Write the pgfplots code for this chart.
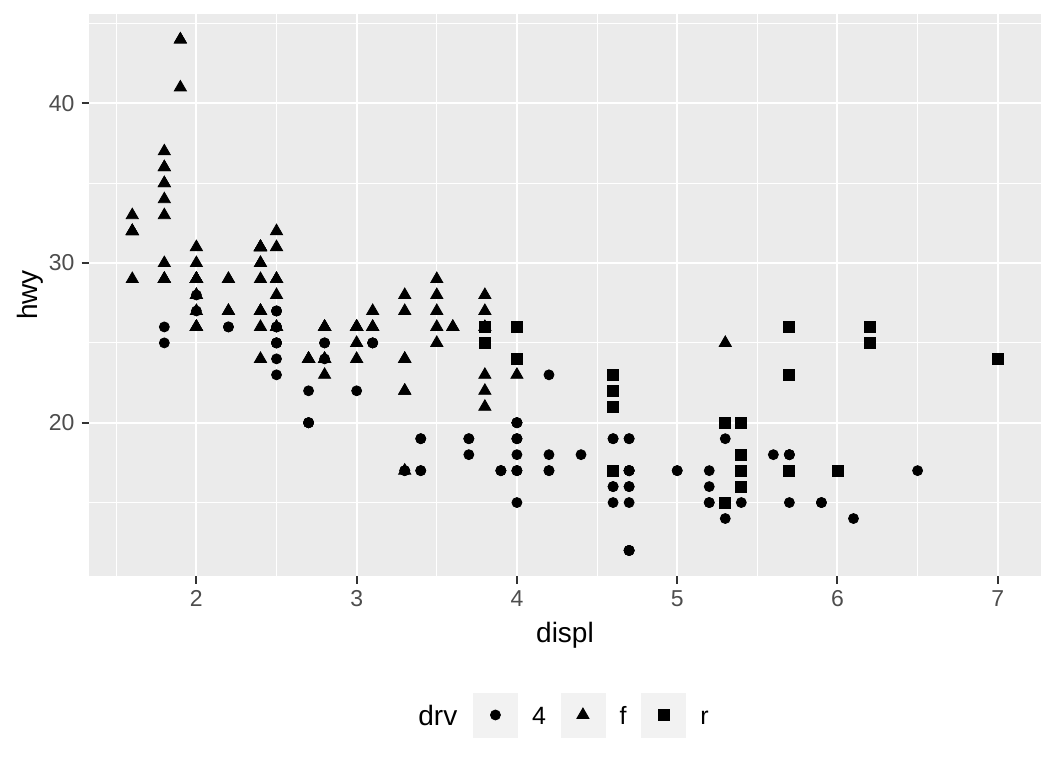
\documentclass[border=0pt]{standalone}
\usepackage{fontspec}
\setmainfont{Liberation Sans}
\usepackage{pgfplots}
\pgfplotsset{compat=1.18}
\usepackage{pgfplotstable}
\definecolor{panel}{HTML}{EBEBEB}
\definecolor{keybg}{HTML}{F2F2F2}
\definecolor{ticklab}{HTML}{4D4D4D}
\definecolor{tickcol}{HTML}{333333}

\pgfplotstableread{
x y
1.8 26
1.8 25
2.0 28
2.0 27
2.8 25
2.8 25
3.1 25
3.1 25
2.8 24
3.1 25
4.2 23
5.3 19
5.3 14
5.7 15
6.5 17
3.7 19
3.7 18
3.9 17
3.9 17
4.7 19
4.7 19
4.7 12
5.2 17
5.2 15
3.9 17
4.7 17
4.7 12
4.7 17
5.2 16
5.7 18
5.9 15
4.7 16
4.7 12
4.7 17
4.7 17
4.7 16
5.2 15
5.7 17
5.9 15
4.0 17
4.0 19
4.0 17
4.0 19
4.6 19
5.0 17
4.2 17
4.2 17
4.6 16
4.6 16
4.6 17
5.4 15
5.4 17
3.0 22
3.7 19
4.0 20
4.7 17
4.7 12
5.7 18
6.1 14
4.0 15
4.2 18
4.4 18
4.6 15
4.0 17
4.0 19
4.6 19
5.0 17
3.3 17
3.3 17
4.0 20
5.6 18
2.5 25
2.5 24
2.5 27
2.5 25
2.5 26
2.5 23
2.2 26
2.2 26
2.5 26
2.5 26
2.5 25
2.5 27
2.5 25
2.5 27
2.7 20
2.7 20
3.4 19
3.4 17
4.0 20
4.7 17
4.7 15
5.7 18
2.7 20
2.7 20
2.7 22
3.4 17
3.4 19
4.0 18
4.0 20
}\drvfour

\pgfplotstableread{
x y
1.8 29
1.8 29
2.0 31
2.0 30
2.8 26
2.8 26
3.1 27
2.4 27
2.4 30
3.1 26
3.5 29
3.6 26
2.4 24
3.0 24
3.3 22
3.3 22
3.3 24
3.3 24
3.3 17
3.8 22
3.8 21
3.8 23
4.0 23
1.6 33
1.6 32
1.6 32
1.6 29
1.6 32
1.8 34
1.8 36
1.8 36
2.0 29
2.4 26
2.4 27
2.4 30
2.4 31
2.5 26
2.5 26
3.3 28
2.0 26
2.0 29
2.0 28
2.0 27
2.7 24
2.7 24
2.7 24
2.4 29
2.4 27
2.5 31
2.5 32
3.5 27
3.5 26
3.0 26
3.0 25
3.5 25
3.1 26
3.8 26
3.8 27
3.8 28
5.3 25
2.2 29
2.2 27
2.4 31
2.4 31
3.0 26
3.0 26
3.5 28
2.2 27
2.2 29
2.4 31
2.4 31
3.0 26
3.0 26
3.3 27
1.8 30
1.8 33
1.8 35
1.8 37
1.8 35
2.0 29
2.0 26
2.0 29
2.0 29
2.8 24
1.9 44
2.0 29
2.0 26
2.0 29
2.0 29
2.5 29
2.5 29
2.8 23
2.8 24
1.9 44
1.9 41
2.0 29
2.0 26
2.5 28
2.5 29
1.8 29
1.8 29
2.0 28
2.0 29
2.8 26
2.8 26
3.6 26
}\drvf

\pgfplotstableread{
x y
5.3 20
5.3 15
5.3 20
5.7 17
6.0 17
5.7 26
5.7 23
6.2 26
6.2 25
7.0 24
4.6 17
5.4 17
5.4 18
3.8 26
3.8 25
4.0 26
4.0 24
4.6 21
4.6 22
4.6 23
4.6 22
5.4 20
5.4 17
5.4 16
5.4 18
}\drvr

\begin{document}
\begin{tikzpicture}
\useasboundingbox (0,0) rectangle (528pt,384pt);
\begin{axis}[
  at={(44.5pt,96pt)}, anchor=south west,
  scale only axis, width=476pt, height=281pt,
  xmin=1.33, xmax=7.27, ymin=10.4, ymax=45.6,
  axis background/.style={fill=panel},
  axis line style={draw=none},
  xtick={2,3,4,5,6,7}, ytick={20,30,40},
  minor xtick={1.5,2.5,3.5,4.5,5.5,6.5},
  minor ytick={15,25,35,45},
  grid=both,
  major grid style={white, line width=1pt},
  minor grid style={white, line width=0.55pt},
  tick pos=left, tick align=outside,
  major tick length=3.75pt, minor tick length=0pt,
  major tick style={tickcol, line width=1pt},
  tick label style={font=\fontsize{11.5}{13}\selectfont, text=ticklab},
  /pgf/number format/assume math mode=true,
  xlabel={displ}, ylabel={hwy},
  label style={font=\fontsize{14}{16}\selectfont},
  xlabel style={at={(axis description cs:0.5,-0.1192)}, anchor=base},
  ylabel style={at={(axis description cs:-0.0541,0.5)}, anchor=base},
  legend style={at={(0.4034,-0.2473)}, anchor=west, draw=none, fill=none,
    inner sep=0pt, outer sep=0pt, column sep=0pt,
    nodes={inner sep=0pt, anchor=base west, yshift=-5pt, font=\fontsize{12.5}{14}\selectfont},
    /tikz/every odd column/.append style={column sep=7.2pt},
    /tikz/every even column/.append style={column sep=7.2pt}},
  legend columns=3,
  legend image code/.code={
    \fill[keybg] (0pt,-11pt) rectangle (22pt,11pt);
    \draw[#1] plot coordinates {(11pt,0pt)};
  },
]
\addplot[only marks, mark=*, mark size=2.5pt, mark options={draw=none, fill=black}] table {\drvfour};
\addlegendentry{4}
\addplot[only marks, mark=triangle*, mark size=3.5pt, mark options={draw=none, fill=black}] table {\drvf};
\addlegendentry{f}
\addplot[only marks, mark=square*, mark size=2.75pt, mark options={draw=none, fill=black}] table {\drvr};
\addlegendentry{r}
\end{axis}
\node[anchor=base west, inner sep=0pt, font=\fontsize{14}{16}\selectfont] at (209pt,21.5pt) {drv};
\end{tikzpicture}
\end{document}
